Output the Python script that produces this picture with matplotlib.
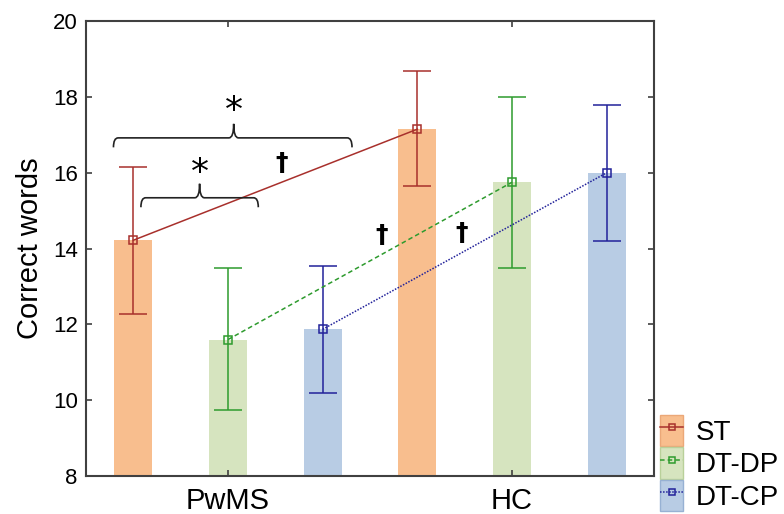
import matplotlib
matplotlib.use("Agg")
import matplotlib.pyplot as plt
from matplotlib.patches import Patch, PathPatch
from matplotlib.lines import Line2D
from matplotlib.path import Path

plt.rcParams['font.family'] = ['Liberation Sans', 'DejaVu Sans']

# data
groups = ['PwMS', 'HC']
conditions = ['ST', 'DT-DP', 'DT-CP']
means = {'ST': [14.22, 17.15], 'DT-DP': [11.60, 15.75], 'DT-CP': [11.87, 16.00]}
lower = {'ST': [12.27, 15.65], 'DT-DP': [9.73, 13.50], 'DT-CP': [10.20, 14.20]}
upper = {'ST': [16.15, 18.68], 'DT-DP': [13.50, 18.00], 'DT-CP': [13.55, 17.78]}

bar_colors = {'ST': '#F8BE8E', 'DT-DP': '#D6E4BF', 'DT-CP': '#B8CCE4'}
edge_colors = {'ST': '#EBA878', 'DT-DP': '#B9D09A', 'DT-CP': '#97B1D3'}
line_colors = {'ST': '#A8302C', 'DT-DP': '#2E9B2E', 'DT-CP': '#22229A'}
line_styles = {'ST': '-', 'DT-DP': (0, (3, 2)), 'DT-CP': (0, (1, 1))}

# brackets: (x0, x1, xtip, y) and significance marks
braces = [(-0.21, 2.31, 1.06, 16.92), (0.08, 1.32, 0.70, 15.34)]
stars = [(1.06, 17.63), (0.70, 16.00)]
daggers = [(1.57, 16.25), (2.62, 14.36), (3.47, 14.41)]

fig = plt.figure(figsize=(7.84, 5.14), dpi=100)
ax = fig.add_axes([0.1097, 0.0739, 0.7245, 0.885])

handles = []
for i, c in enumerate(conditions):
    xs = [i, i + 3]
    ax.bar(xs, [m - 8 for m in means[c]], bottom=8, width=0.4,
           color=bar_colors[c], edgecolor='none', zorder=1)
    yerr = [[m - l for m, l in zip(means[c], lower[c])],
            [u - m for m, u in zip(means[c], upper[c])]]
    ax.errorbar(xs, means[c], yerr=yerr, color=line_colors[c], lw=1.1,
                ls=line_styles[c], marker='s', ms=6, mfc='none', mew=1.1,
                capsize=10, capthick=1.1, zorder=3)
    ln = Line2D([], [], color=line_colors[c], lw=1.1, ls=line_styles[c],
                marker='s', ms=5, mfc='none', mew=1.1)
    pt = Patch(facecolor=bar_colors[c], edgecolor=edge_colors[c])
    handles.append((pt, ln))


def brace(x0, x1, xm, y, drop=0.25, tip=0.37, dx=0.05):
    verts = [(x0, y - drop), (x0, y), (x0 + dx, y),
             (xm - dx, y), (xm, y), (xm, y + tip),
             (xm, y), (xm + dx, y),
             (x1 - dx, y), (x1, y), (x1, y - drop)]
    codes = [Path.MOVETO, Path.CURVE3, Path.CURVE3,
             Path.LINETO, Path.CURVE3, Path.CURVE3,
             Path.CURVE3, Path.CURVE3,
             Path.LINETO, Path.CURVE3, Path.CURVE3]
    ax.add_patch(PathPatch(Path(verts, codes), fill=False, lw=1.2,
                           edgecolor='#222222', zorder=4))


for b in braces:
    brace(*b)
for x, y in stars:
    ax.text(x, y, '*', ha='center', va='center', fontsize=26,
            family='DejaVu Sans')
for x, y in daggers:
    ax.text(x, y, '\u2020', ha='center', va='center', fontsize=18,
            fontweight='bold', family='DejaVu Sans')

ax.set_xlim(-0.5, 5.5)
ax.set_ylim(8, 20)
ax.set_xticks([1, 4])
ax.set_xticklabels(groups, fontsize=21)
ax.set_yticks(range(8, 21, 2))
ax.tick_params(axis='y', labelsize=16, pad=6)
ax.tick_params(axis='x', pad=8)
ax.tick_params(direction='in', top=True, right=True, length=4,
               color='#404040', width=1.2)
ax.set_ylabel('Correct words', fontsize=21, labelpad=6)
for s in ax.spines.values():
    s.set_color('#404040')
    s.set_linewidth(1.5)

fig.legend(handles, conditions, loc='lower left',
           bbox_to_anchor=(0.838, 0.0), frameon=False, fontsize=20,
           handlelength=0.85, handleheight=1.35, handletextpad=0.45,
           labelspacing=0.05, borderpad=0.1, borderaxespad=0)

fig.savefig('out.png', dpi=100)
